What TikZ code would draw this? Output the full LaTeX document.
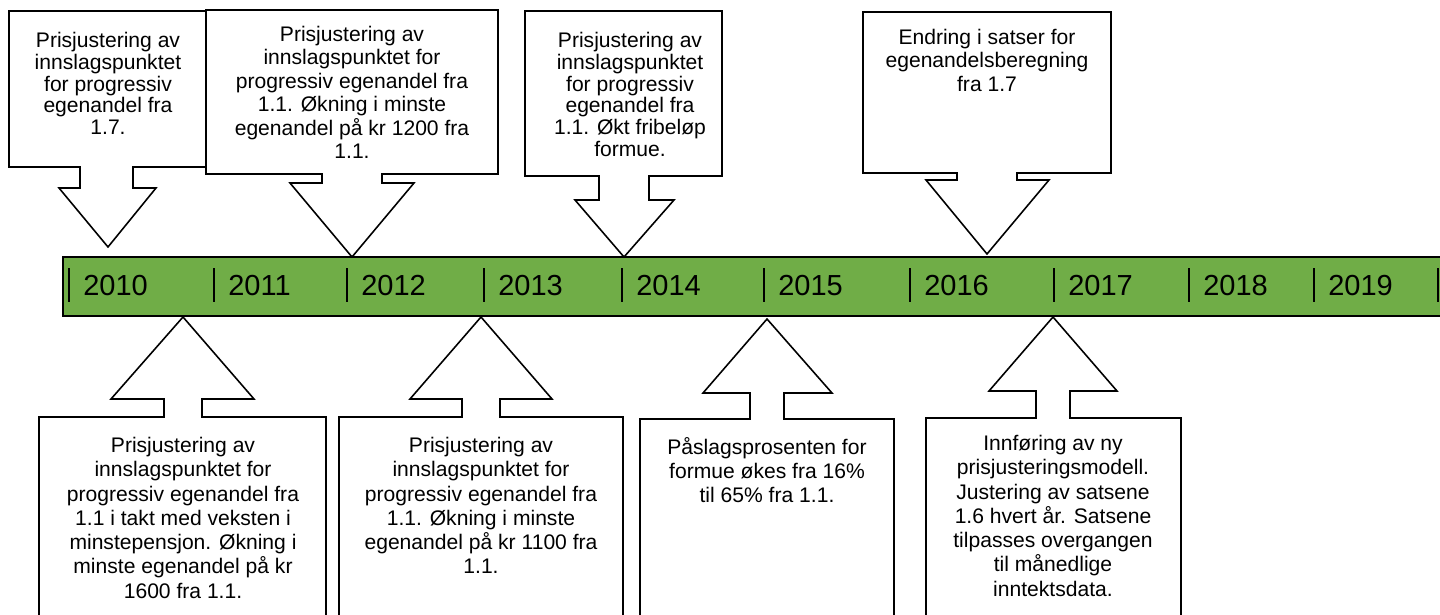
\documentclass[tikz,border=0pt]{standalone}
\usepackage{fontspec}
\setmainfont{Liberation Sans}
\definecolor{bargreen}{RGB}{112,173,71}
\tikzset{
  callout/.style={draw=black, fill=white, line width=0.9pt, line join=miter},
  note/.style={align=center, inner sep=0pt, anchor=north, font=\fontsize{12}{13.8}\selectfont},
  tightnote/.style={note, font=\fontsize{12}{12.4}\selectfont},
  midnote/.style={note, font=\fontsize{12}{13.3}\selectfont},
  yearlabel/.style={anchor=west, inner sep=0pt, font=\fontsize{16.5}{19}\selectfont},
  tick/.style={line width=0.9pt}
}
\begin{document}
\begin{tikzpicture}[x=0.02cm,y=-0.02cm]
  \pgfmathsetmacro\bartop{257}
  \pgfmathsetmacro\barbot{316}
  \pgfmathsetmacro\boxbot{625}   % lower boxes run off the page

  \useasboundingbox (0,0) rectangle (1440,615);
  \begin{scope}
  \clip (0,0) rectangle (1440,615);

% timeline bar with years
  \draw[fill=bargreen,line width=1.2pt] (63,\bartop) rectangle (1450,\barbot);
  \foreach \x/\yr in {69/2010,214/2011,347/2012,484/2013,622/2014,764/2015,910/2016,1054/2017,1189/2018,1314/2019} {
    \draw[tick] (\x,268) -- (\x,302);
    \node[yearlabel] (y\yr) at (\x+14,286) {\yr};
  }
  \draw[tick] (1438,268) -- (1438,302);

% callouts above the bar
  \draw[callout] (9,11) -- (207,11) -- (207,167) -- (133,167) -- (133,188) -- (156,188)
    -- (108,247) -- (59,188) -- (80,188) -- (80,167) -- (9,167) -- cycle;
  \node[tightnote] (note1) at (108,32) {Prisjustering av\\innslagspunktet\\for progressiv\\egenandel fra\\1.7.};

  \draw[callout] (206,10) -- (498,10) -- (498,174) -- (382,174) -- (382,183) -- (414,183)
    -- (352,257) -- (290,183) -- (322,183) -- (322,174) -- (206,174) -- cycle;
  \node[midnote] (note2) at (352,26) {Prisjustering av\\innslagspunktet for\\progressiv egenandel fra\\1.1. Økning i minste\\egenandel på kr 1200 fra\\1.1.};

  \draw[callout] (525,11) -- (722,11) -- (722,176) -- (649,176) -- (649,200) -- (674,200)
    -- (624,257) -- (575,200) -- (599,200) -- (599,176) -- (525,176) -- cycle;
  \node[tightnote] (note3) at (630,32) {Prisjustering av\\innslagspunktet\\for progressiv\\egenandel fra\\1.1. Økt fribeløp\\formue.};

  \draw[callout] (863,12) -- (1111,12) -- (1111,173) -- (1017,173) -- (1017,180) -- (1049,180)
    -- (987,254) -- (926,180) -- (957,180) -- (957,173) -- (863,173) -- cycle;
  \node[midnote] (note4) at (987,29) {Endring i satser for\\egenandelsberegning\\fra 1.7};

% callouts below the bar
  \draw[callout] (183,317) -- (254,399) -- (202,399) -- (202,417) -- (326,417) -- (326,\boxbot)
    -- (39,\boxbot) -- (39,417) -- (164,417) -- (164,399) -- (111,399) -- cycle;
  \node[note] (note5) at (183,437) {Prisjustering av\\innslagspunktet for\\progressiv egenandel fra\\1.1 i takt med veksten i\\minstepensjon. Økning i\\minste egenandel på kr\\1600 fra 1.1.};

  \draw[callout] (481,317) -- (552,399) -- (500,399) -- (500,417) -- (623,417) -- (623,\boxbot)
    -- (339,\boxbot) -- (339,417) -- (462,417) -- (462,399) -- (410,399) -- cycle;
  \node[note] (note6) at (481,437) {Prisjustering av\\innslagspunktet for\\progressiv egenandel fra\\1.1. Økning i minste\\egenandel på kr 1100 fra\\1.1.};

  \draw[callout] (767,319) -- (832,393) -- (784,393) -- (784,419) -- (894,419) -- (894,\boxbot)
    -- (640,\boxbot) -- (640,419) -- (750,419) -- (750,393) -- (703,393) -- cycle;
  \node[note] (note7) at (767,437) {Påslagsprosenten for\\formue økes fra 16\%\\til 65\% fra 1.1.};

  \draw[callout] (1053,317) -- (1117,391) -- (1070,391) -- (1070,418) -- (1181,418) -- (1181,\boxbot)
    -- (926,\boxbot) -- (926,418) -- (1036,418) -- (1036,391) -- (989,391) -- cycle;
  \node[note] (note8) at (1053,435) {Innføring av ny\\prisjusteringsmodell.\\Justering av satsene\\1.6 hvert år. Satsene\\tilpasses overgangen\\til månedlige\\inntektsdata.};

  \end{scope}
\end{tikzpicture}
\end{document}
